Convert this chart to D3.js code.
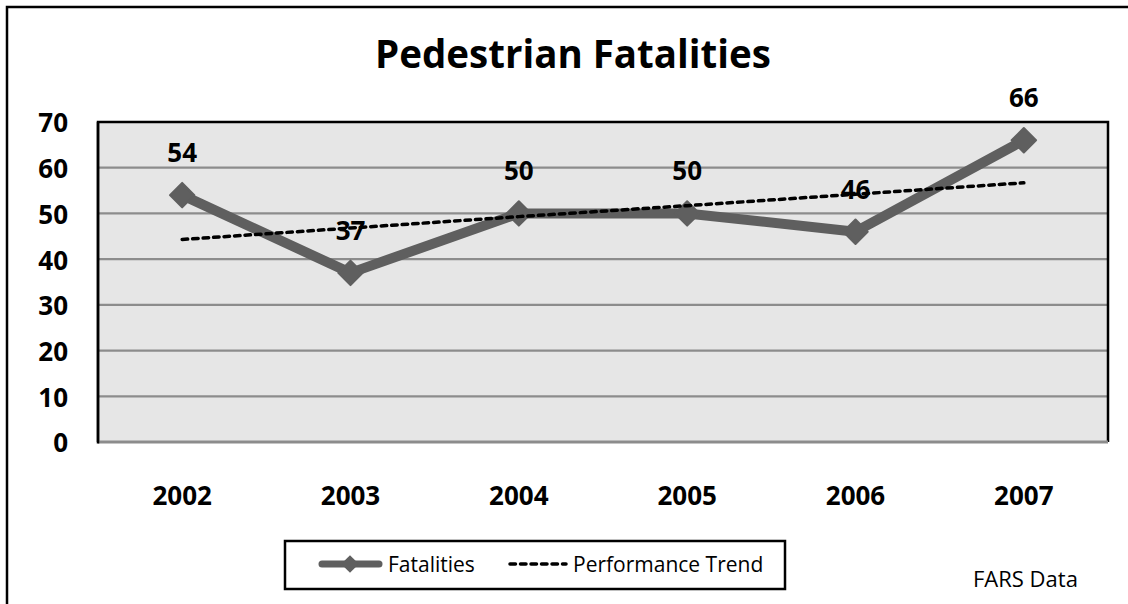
<!DOCTYPE html>
<html><head><meta charset="utf-8">
<script src="https://d3js.org/d3.v7.min.js"></script>
<style>html,body{margin:0;padding:0;background:#fff;overflow:hidden}svg{display:block}</style>
</head><body>
<script>
const years = ["2002","2003","2004","2005","2006","2007"];
const fatalities = [54, 37, 50, 50, 46, 66];
const trend = [44.3, 46.8, 49.3, 51.7, 54.2, 56.7];
const yTicks = [0,10,20,30,40,50,60,70];
const title = "Pedestrian Fatalities";
const legendLabels = ["Fatalities", "Performance Trend"];
const sourceNote = "FARS Data";

const W = 1128, H = 604;
const FONT = "'Open Sans', sans-serif";
const svg = d3.select("body").append("svg").attr("width", W).attr("height", H);

// outer frame (only left and top edges are visible in the crop)
svg.append("path").attr("d", `M7,${H}V7H${W}`)
  .attr("fill", "none").attr("stroke", "#000").attr("stroke-width", 2.5);

const plot = {l: 98, r: 1108, t: 122, b: 442};
const x = d3.scaleBand().domain(years).range([plot.l, plot.r]);
const y = d3.scaleLinear().domain([0, 70]).range([plot.b, plot.t]);

// plot area
svg.append("rect").attr("x", plot.l).attr("y", plot.t)
  .attr("width", plot.r - plot.l).attr("height", plot.b - plot.t)
  .attr("fill", "#e6e6e6");

// gridlines
svg.append("g").selectAll("line").data(yTicks.filter(d => d > 0 && d < 70)).join("line")
  .attr("x1", plot.l).attr("x2", plot.r)
  .attr("y1", d => y(d)).attr("y2", d => y(d))
  .attr("stroke", "#8c8c8c").attr("stroke-width", 2.2);

// plot border
svg.append("path")
  .attr("d", `M${plot.l},${plot.b}V${plot.t}H${plot.r}V${plot.b}`)
  .attr("fill", "none").attr("stroke", "#000").attr("stroke-width", 2.5);
svg.append("line").attr("x1", plot.l).attr("x2", plot.r)
  .attr("y1", plot.b).attr("y2", plot.b)
  .attr("stroke", "#8c8c8c").attr("stroke-width", 3);
svg.append("line").attr("x1", plot.l).attr("x2", plot.l)
  .attr("y1", plot.t).attr("y2", plot.b + 1.5)
  .attr("stroke", "#000").attr("stroke-width", 2.5);

// y axis labels
const yAxis = d3.axisLeft(y).tickValues(yTicks).tickSize(0).tickPadding(0);
const gy = svg.append("g").attr("transform", `translate(68,0)`).call(yAxis);
gy.select(".domain").remove();
gy.selectAll("text").attr("font-family", FONT).attr("font-weight", "bold")
  .attr("font-size", 26).attr("fill", "#000").attr("dy", "0.38em").attr("x", 0);

// x axis labels
const xAxis = d3.axisBottom(x).tickSize(0).tickPadding(0);
const gx = svg.append("g").attr("transform", `translate(0,505)`).call(xAxis);
gx.select(".domain").remove();
gx.selectAll("text").attr("font-family", FONT).attr("font-weight", "bold")
  .attr("font-size", 26).attr("fill", "#000").attr("dy", 0).attr("y", 0);

const cx = d => x(d) + x.bandwidth() / 2;
const LINEC = "#5f5f5f";

// fatalities line
const line = d3.line().x((d, i) => cx(years[i])).y(d => y(d));
svg.append("path").datum(fatalities).attr("d", line)
  .attr("fill", "none").attr("stroke", LINEC).attr("stroke-width", 10)
  .attr("stroke-linejoin", "round");

// diamonds
const diamond = d3.symbol().type(d3.symbolDiamond2).size(380);
svg.append("g").selectAll("path").data(fatalities).join("path")
  .attr("d", diamond)
  .attr("transform", (d, i) => `translate(${cx(years[i])},${y(d)})`)
  .attr("fill", LINEC).attr("stroke", LINEC).attr("stroke-width", 2).attr("stroke-linejoin", "round");

// trend line
svg.append("path").datum(trend).attr("d", line)
  .attr("fill", "none").attr("stroke", "#000").attr("stroke-width", 3.5)
  .attr("stroke-dasharray", "5.5,5").attr("stroke-linecap", "round");

// data labels
svg.append("g").selectAll("text").data(fatalities).join("text")
  .attr("x", (d, i) => cx(years[i])).attr("y", d => y(d) - 33)
  .attr("text-anchor", "middle").attr("font-family", FONT).attr("font-weight", "bold")
  .attr("font-size", 26).attr("fill", "#000").text(d => d);

// title
svg.append("text").attr("x", 573).attr("y", 68).attr("text-anchor", "middle")
  .attr("font-family", FONT).attr("font-weight", "bold").attr("font-size", 38.5)
  .attr("fill", "#000").text(title);

// legend
svg.append("rect").attr("x", 285).attr("y", 541).attr("width", 500).attr("height", 48)
  .attr("fill", "#fff").attr("stroke", "#000").attr("stroke-width", 2.5);
svg.append("line").attr("x1", 322).attr("x2", 379).attr("y1", 564).attr("y2", 564)
  .attr("stroke", LINEC).attr("stroke-width", 7).attr("stroke-linecap", "round");
svg.append("path").attr("d", d3.symbol().type(d3.symbolDiamond2).size(200))
  .attr("transform", "translate(350,564)").attr("fill", LINEC);
svg.append("text").attr("x", 388).attr("y", 572).attr("font-family", FONT)
  .attr("font-size", 21).attr("fill", "#000").text(legendLabels[0]);
svg.append("line").attr("x1", 510).attr("x2", 566).attr("y1", 564).attr("y2", 564)
  .attr("stroke", "#000").attr("stroke-width", 3.5)
  .attr("stroke-dasharray", "5.5,5").attr("stroke-linecap", "round");
svg.append("text").attr("x", 573).attr("y", 572).attr("font-family", FONT)
  .attr("font-size", 21).attr("fill", "#000").text(legendLabels[1]);

// source note
svg.append("text").attr("x", 973).attr("y", 587).attr("font-family", FONT)
  .attr("font-size", 22).attr("fill", "#000").text(sourceNote);
</script>
</body></html>
